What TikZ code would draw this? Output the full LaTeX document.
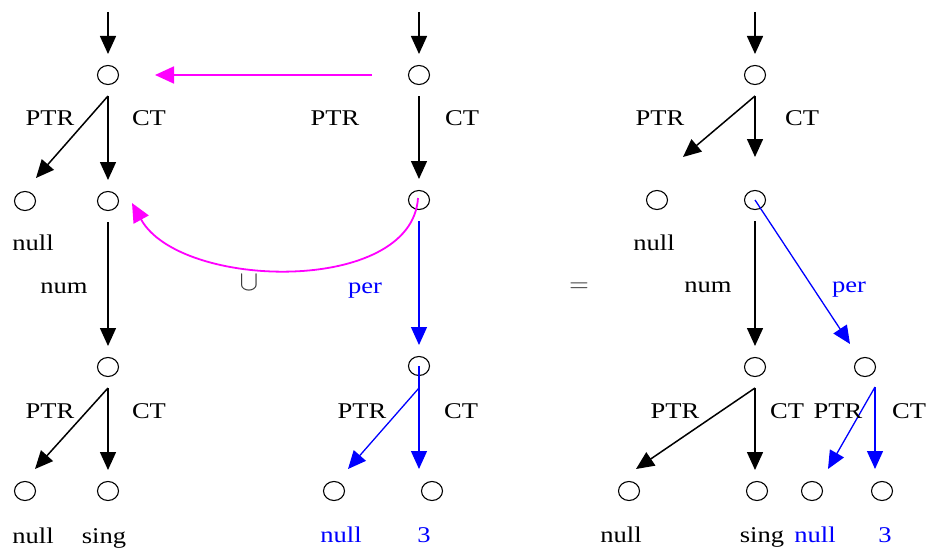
\documentclass[tikz,border=0pt]{standalone}
\usepackage{fontspec}
\setmainfont{Liberation Serif}
\usetikzlibrary{arrows.meta,calc,shapes.geometric}
\definecolor{myblue}{RGB}{0,0,255}
\definecolor{mymag}{RGB}{255,0,255}
\newcommand{\wt}[1]{\scalebox{1.18}[1]{#1}}
\begin{document}
\begin{tikzpicture}[x=1pt,y=-1pt,
  dot/.style={ellipse,draw,line width=1.1pt,minimum width=21pt,minimum height=19pt,inner sep=0pt,outer sep=11.5pt},
  lbl/.style={anchor=base,inner sep=0pt,font=\fontsize{22.5}{27}\selectfont},
  bl/.style={lbl,text=myblue},
  tipstyle/.style={-{Triangle[length=18pt,width=16pt]}},
  blk/.style={tipstyle,line width=1.5pt,black},
  blu/.style={tipstyle,line width=1.3pt,myblue},
  mag/.style={-{Triangle[length=19pt,width=17pt]},line width=1.8pt,mymag}]
\useasboundingbox (0,0) rectangle (931,551);

% ---------- left tree ----------
\node[dot] (L1) at (108,75) {};
\node[dot] (L2) at (25,201) {};
\node[dot] (L3) at (108,201) {};
\node[dot] (L4) at (108,367) {};
\node[dot] (L5) at (25,491) {};
\node[dot] (L6) at (108,491) {};
\coordinate (Ltop) at (108,12);

\draw[blk] (Ltop) -- (L1.north);
\draw[blk] (L1.south) -- (L3.north);
\draw[blk] (L1.south) -- ($(L2)+(11,-23)$);
\draw[blk] (L3.south) -- (L4.north);
\draw[blk] (L4.south) -- (L6.north);
\draw[blk] (L4.south) -- ($(L5)+(10,-22)$);

\node[lbl] (lp1) at (50,125) {\wt{PTR}};
\node[lbl] (lc1) at (149,125) {\wt{CT}};
\node[lbl] (ln1) at (33,250) {\wt{null}};
\node[lbl] (lnum) at (64,293) {\wt{num}};
\node[lbl] (lp2) at (50,418) {\wt{PTR}};
\node[lbl] (lc2) at (149,418) {\wt{CT}};
\node[lbl] (ln2) at (33,543) {\wt{null}};
\node[lbl] (lsing) at (104,543) {\wt{sing}};

% ---------- middle tree ----------
\node[dot] (M1) at (419,75) {};
\node[dot] (M2) at (419,200) {};
\node[dot] (M3) at (419,366) {};
\node[dot] (M4) at (334,491) {};
\node[dot] (M5) at (432,491) {};
\coordinate (Mtop) at (419,12);

\draw[blk] (Mtop) -- (M1.north);
\draw[blk] (M1.south) -- (M2.north);
\draw[mag] ($(M1)+(-47,0)$) -- ($(L1)+(47,0)$);
\draw[mag] ($(M2)+(-1,-2)$) .. controls (412,295) and (180,290) .. ($(L3)+(24,2)$);
\draw[blu] (M2.south) -- (M3.north);
\draw[blu] (M3.center) -- ($(M5)+(-13,-22)$);
\draw[blu] ($(M3)+(0,22)$) -- ($(M4)+(14,-22)$);

\node[lbl] (mp1) at (335,125) {\wt{PTR}};
\node[lbl] (mc1) at (462,125) {\wt{CT}};
\node[lbl,text=black!80] (cup) at (249,290) {\scalebox{1.35}{$\cup$}};
\node[bl] (mper) at (365,293) {\wt{per}};
\node[lbl] (mp2) at (362,418) {\wt{PTR}};
\node[lbl] (mc2) at (461,418) {\wt{CT}};
\node[bl] (mn) at (341,542) {\wt{null}};
\node[bl] (m3) at (424,542) {\wt{3}};

\node[lbl,text=black!80] (eq) at (579,292) {\scalebox{1.3}{$=$}};

% ---------- right tree ----------
\node[dot] (R1) at (755,75) {};
\node[dot] (R2) at (657,200) {};
\node[dot] (R3) at (755,200) {};
\node[dot] (R4) at (755,367) {};
\node[dot] (R5) at (865,367) {};
\node[dot] (R6) at (629,491) {};
\node[dot] (R7) at (757,491) {};
\node[dot] (R8) at (812,491) {};
\node[dot] (R9) at (882,491) {};
\coordinate (Rtop) at (755,12);

\draw[blk] (Rtop) -- (R1.north);
\draw[blk] (R1.south) -- ($(R3)+(0,-43)$);
\draw[blk] (R1.south) -- ($(R2)+(26,-43)$);
\draw[blk] (R3.south) -- (R4.north);
\draw[blu] (R3.center) -- ($(R5)+(-15,-23)$);
\draw[blk] (R4.south) -- (R4.south |- R7.north);
\draw[blk] (R4.south) -- ($(R6)+(7,-22)$);
\draw[blu] ($(R5)+(10,20)$) -- ($(R5)+(10,102)$);
\draw[blu] ($(R5)+(10,20)$) -- ($(R8)+(16,-22)$);

\node[lbl] (rp1) at (660,125) {\wt{PTR}};
\node[lbl] (rc1) at (802,125) {\wt{CT}};
\node[lbl] (rn1) at (654,250) {\wt{null}};
\node[lbl] (rnum) at (708,292) {\wt{num}};
\node[bl] (rper) at (849,292) {\wt{per}};
\node[lbl] (rp2) at (675,418) {\wt{PTR}};
\node[lbl] (rc2) at (787,418) {\wt{CT}};
\node[lbl] (rp3) at (838,418) {\wt{PTR}};
\node[lbl] (rc3) at (909,418) {\wt{CT}};
\node[lbl] (rn2) at (621,542) {\wt{null}};
\node[lbl] (rsing) at (762,542) {\wt{sing}};
\node[bl] (rn3) at (815,542) {\wt{null}};
\node[bl] (r3) at (885,542) {\wt{3}};
\end{tikzpicture}
\end{document}
